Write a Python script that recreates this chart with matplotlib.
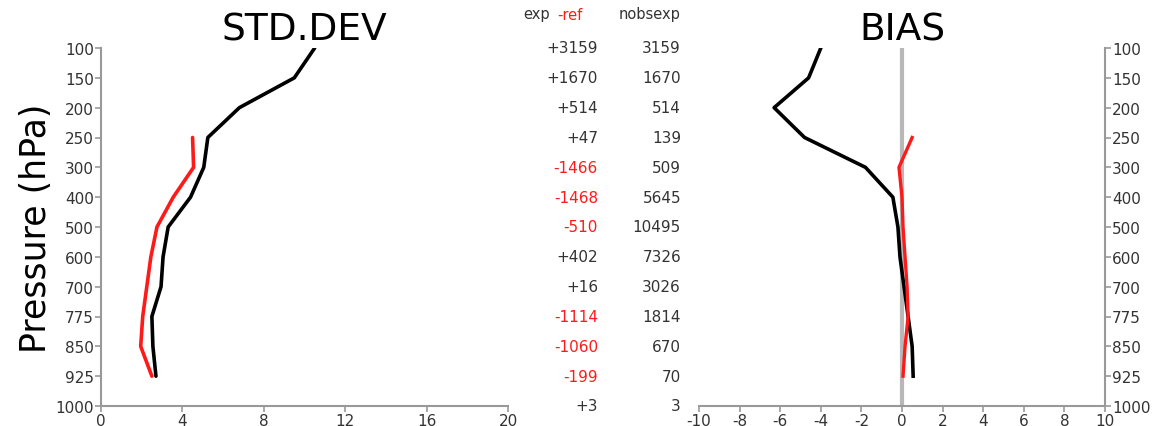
import matplotlib
matplotlib.use("Agg")
import matplotlib.pyplot as plt
import matplotlib.transforms as mtransforms

plt.rcParams['font.family'] = ['DejaVu Sans']
plt.rcParams['axes.unicode_minus'] = False

# Pressure levels (hPa), drawn on an evenly spaced level axis
levels = [100, 150, 200, 250, 300, 400, 500, 600, 700, 775, 850, 925, 1000]

# Standard deviation profiles
std_exp_levels = [100, 150, 200, 250, 300, 400, 500, 600, 700, 775, 850, 925]
std_exp = [10.5, 9.5, 6.8, 5.25, 5.05, 4.4, 3.3, 3.05, 2.95, 2.5, 2.55, 2.7]
std_ref_levels = [250, 300, 400, 500, 600, 700, 775, 850, 925]
std_ref = [4.5, 4.55, 3.55, 2.75, 2.45, 2.25, 2.05, 1.95, 2.5]

# Bias profiles
bias_exp_levels = [100, 150, 200, 250, 300, 400, 500, 600, 700, 775, 850, 925]
bias_exp = [-4.0, -4.6, -6.3, -4.8, -1.8, -0.45, -0.2, -0.1, 0.1, 0.3, 0.5, 0.55]
bias_ref_levels = [250, 300, 400, 500, 600, 700, 775, 850, 925]
bias_ref = [0.5, -0.15, 0.0, 0.05, 0.15, 0.25, 0.3, 0.15, 0.05]

# Observation counts per level
exp_minus_ref = [3159, 1670, 514, 47, -1466, -1468, -510, 402, 16, -1114, -1060, -199, 3]
nobs_exp = [3159, 1670, 514, 139, 509, 5645, 10495, 7326, 3026, 1814, 670, 70, 3]

std_ticks = [0, 4, 8, 12, 16, 20]
bias_ticks = [-10, -8, -6, -4, -2, 0, 2, 4, 6, 8, 10]

RED = '#ff1a1a'
AXC = '#999999'
TXT = '#333333'


def lev_idx(values):
    return [levels.index(v) for v in values]


fig = plt.figure(figsize=(11.54, 4.27), dpi=100)
ax1 = fig.add_axes([101 / 1154, 1 - 407 / 427, 407 / 1154, 358 / 427])
ax2 = fig.add_axes([699 / 1154, 1 - 407 / 427, 406 / 1154, 358 / 427])

for ax in (ax1, ax2):
    ax.set_ylim(len(levels) - 1, 0)
    ax.set_yticks(range(len(levels)))
    ax.set_yticklabels([str(v) for v in levels])
    ax.spines['top'].set_visible(False)
    ax.tick_params(colors=AXC, labelcolor=TXT, labelsize=11, length=4, width=1.2, pad=1)
    for s in ax.spines.values():
        s.set_color(AXC)
        s.set_linewidth(1.5)

# STD.DEV panel
ax1.spines['right'].set_visible(False)
ax1.set_xlim(0, 20)
ax1.set_xticks(std_ticks)
ax1.plot(std_ref, lev_idx(std_ref_levels), color=RED, lw=2.6, solid_capstyle='round')
ax1.plot(std_exp, lev_idx(std_exp_levels), color='black', lw=2.6, solid_capstyle='round')
ax1.set_title('STD.DEV', fontsize=27, pad=1)
ax1.set_ylabel('Pressure (hPa)', fontsize=25, labelpad=2)

# BIAS panel
ax2.spines['left'].set_visible(False)
ax2.yaxis.tick_right()
ax2.set_xlim(-10, 10)
ax2.set_xticks(bias_ticks)
ax2.axvline(0, color='#b8b8b8', lw=3, zorder=1)
ax2.plot(bias_ref, lev_idx(bias_ref_levels), color=RED, lw=2.4, zorder=3)
ax2.plot(bias_exp, lev_idx(bias_exp_levels), color='black', lw=2.6, zorder=2)
ax2.set_title('BIAS', fontsize=27, pad=1)

# Observation count columns between the panels
trans = mtransforms.blended_transform_factory(fig.transFigure, ax1.transData)
for i, (d, n) in enumerate(zip(exp_minus_ref, nobs_exp)):
    col = RED if d < 0 else TXT
    fig.text(598 / 1154, i, f'{d:+d}', transform=trans, ha='right', va='center',
             fontsize=11, color=col)
    fig.text(681 / 1154, i, str(n), transform=trans, ha='right', va='center',
             fontsize=11, color=TXT)

fig.text(523 / 1154, 1 - 15 / 427, 'exp', ha='left', va='center', fontsize=10.5, color=TXT)
fig.text(557 / 1154, 1 - 15 / 427, '-ref', ha='left', va='center', fontsize=10.5, color=RED)
fig.text(650 / 1154, 1 - 15 / 427, 'nobsexp', ha='center', va='center', fontsize=10.5, color=TXT)

fig.savefig('out.png', dpi=100)
